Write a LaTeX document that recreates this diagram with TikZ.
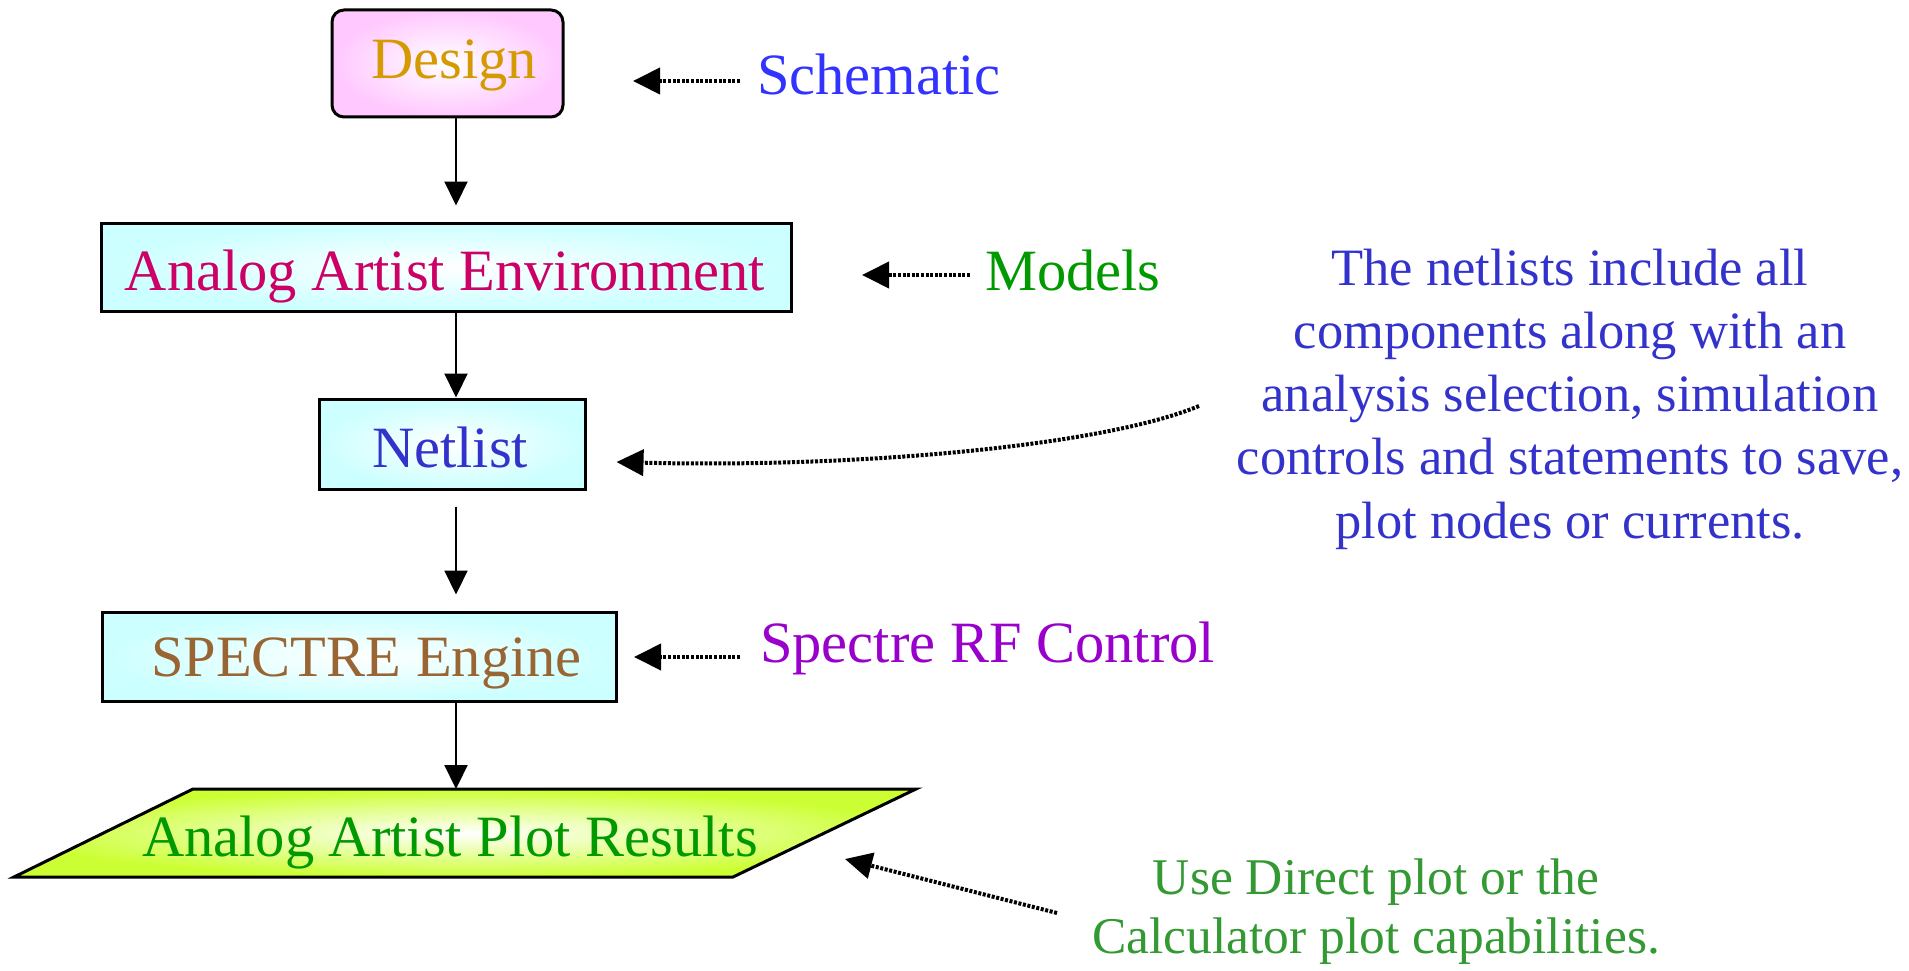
\documentclass[tikz,border=0pt]{standalone}
\usepackage{fontspec}
\setmainfont{Liberation Serif}
\usetikzlibrary{arrows.meta,calc}
\definecolor{designpink}{RGB}{255,200,255}
\definecolor{cyanbox}{RGB}{204,255,255}
\definecolor{plotgreen}{RGB}{204,255,51}
\definecolor{designgold}{RGB}{212,154,0}
\definecolor{schblue}{RGB}{51,51,255}
\definecolor{aaered}{RGB}{204,0,102}
\definecolor{modgreen}{RGB}{0,153,0}
\definecolor{netblue}{RGB}{51,51,204}
\definecolor{specbrown}{RGB}{153,102,51}
\definecolor{rfpurple}{RGB}{153,0,204}
\definecolor{usegreen}{RGB}{51,153,51}
\begin{document}
\begin{tikzpicture}[x=1pt,y=-1pt,
  cbox/.style={draw=black, line width=3pt, inner sep=0pt, shade, inner color=white, outer color=cyanbox},
  lbl/.style={anchor=base, inner sep=0pt, font=\fontsize{58.5}{70}\selectfont},
  side/.style={anchor=base west, inner sep=0pt, font=\fontsize{58.5}{70}\selectfont},
  flow/.style={-{Triangle[width=23pt,length=24pt]}, line width=2.2pt},
  dotarrow/.style={-{Triangle[width=26pt,length=27pt]}, line width=4pt, dash pattern=on 3pt off 1.6pt}]
\useasboundingbox (0,0) rectangle (1909,971);

% boxes
\node[draw=black, line width=3pt, inner sep=0pt, rounded corners=12pt, shade, inner color=white, outer color=designpink,
      minimum width=231pt, minimum height=107pt] (design) at (447.5,63.5) {};
\node[cbox, minimum width=690pt, minimum height=88pt] (aae) at (446,267) {};
\node[cbox, minimum width=266pt, minimum height=90pt] (netlist) at (452,444) {};
\node[cbox, minimum width=514pt, minimum height=89pt] (spectre) at (359,656.5) {};
\shadedraw[line width=3pt, inner color=white, outer color=plotgreen]
  (14,877) -- (193,789) -- (916,789) -- (733,877) -- cycle;
\coordinate (plottop) at (465,789);

% box labels
\node[lbl, text=designgold] (designtxt) at (454,79) {Design};
\node[lbl, text=aaered] (aaetxt) at (445,290) {Analog Artist Environment};
\node[lbl, text=netblue] (nettxt) at (450,467) {Netlist};
\node[lbl, text=specbrown] (spectxt) at (366.5,676) {SPECTRE Engine};
\node[lbl, text=modgreen] (plottxt) at (450,856) {Analog Artist Plot Results};

% side labels
\node[side, text=schblue] (sch) at (757,95) {Schematic};
\node[side, text=modgreen] (models) at (985,290) {Models};
\node[side, text=rfpurple] (rf) at (760,662) {Spectre RF Control};
\node[inner sep=0pt, align=center, text=netblue, font=\fontsize{52.5}{63.3}\selectfont] (note) at (1570,399)
  {The netlists include all\\components along with an\\analysis selection, simulation\\controls and statements to save,\\plot nodes or currents.};
\node[inner sep=0pt, align=center, text=usegreen, font=\fontsize{51.5}{59}\selectfont] (use) at (1376,911.5)
  {Use Direct plot or the\\Calculator plot capabilities.};

% flow arrows
\coordinate (ax) at (456,0);
\draw[flow, shorten >=16pt] (design.south -| ax) -- (aae.north -| ax);
\draw[flow] (aae.south -| ax) -- (netlist.north -| ax);
\draw[flow, shorten <=16pt, shorten >=16pt] (netlist.south -| ax) -- (spectre.north -| ax);
\draw[flow] (spectre.south -| ax) -- (plottop -| ax);

% dotted arrows
\coordinate (schtip) at (633,81);
\draw[dotarrow] ($(sch.west |- schtip)+(-17,0)$) -- (schtip);
\coordinate (modtip) at (862,275);
\draw[dotarrow] ($(models.west |- modtip)+(-15,0)$) -- (modtip);
\coordinate (rftip) at (634,657);
\draw[dotarrow] ($(rf.west |- rftip)+(-20,0)$) -- (rftip);
\coordinate (nltail) at (1199,406);
\coordinate (nltip) at ($(netlist.east)+(30,18)$);
\draw[dotarrow] (nltail) .. controls (1100,447) and (850,468) .. (nltip);
\coordinate (usetail) at (1057,913);
\coordinate (plottip) at (845,859);
\draw[dotarrow] (usetail) -- (plottip);
\end{tikzpicture}
\end{document}
